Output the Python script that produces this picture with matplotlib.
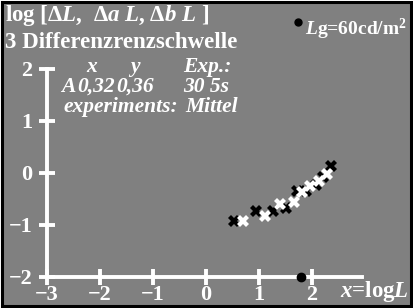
import matplotlib
matplotlib.use("Agg")
import matplotlib.pyplot as plt
from matplotlib.patches import Rectangle
from matplotlib.lines import Line2D

# data (log L, log threshold)
black_x = [0.52, 0.94, 1.26, 1.51, 1.71, 1.89, 2.08, 2.21, 2.36]
black_y = [-0.92, -0.74, -0.74, -0.68, -0.34, -0.34, -0.23, -0.07, 0.14]
white_x = [0.70, 1.11, 1.40, 1.66, 1.81, 1.96, 2.14, 2.28]
white_y = [-0.92, -0.82, -0.60, -0.56, -0.37, -0.25, -0.15, -0.01]
adapt_x = [1.79]
adapt_y = [-2.0]
xticks = [-3, -2, -1, 0, 1, 2]
yticks = [-2, -1, 0, 1, 2]

GRAY = "#808080"
plt.rcParams['font.family'] = ['Liberation Serif', 'DejaVu Serif']
plt.rcParams['mathtext.fontset'] = 'custom'
plt.rcParams['mathtext.rm'] = 'Liberation Serif:bold'
plt.rcParams['mathtext.it'] = 'Liberation Serif:bold:italic'
plt.rcParams['mathtext.bf'] = 'Liberation Serif:bold'

W, H = 413, 308
fig = plt.figure(figsize=(4.13, 3.08), dpi=100)
fig.patch.set_facecolor("white")
fig.patches.append(Rectangle((0.006, 0.006), 0.988, 0.988, transform=fig.transFigure,
                             facecolor=GRAY, edgecolor="black", linewidth=2.2, zorder=-5))

ax = fig.add_axes([0, 0, 1, 1])
ax.set_facecolor("none")
ax.set_zorder(2)
ax.set_xlim(-206 / 53, 207 / 53)
ax.set_ylim(-135 / 52, 173 / 52)

for s in ["top", "right"]:
    ax.spines[s].set_visible(False)
ax.spines["left"].set_position(("data", -3))
ax.spines["bottom"].set_position(("data", -2))
ax.spines["left"].set_bounds(-2, 2)
ax.spines["bottom"].set_bounds(-3, 2.95)
for s in ["left", "bottom"]:
    ax.spines[s].set_color("white")
    ax.spines[s].set_linewidth(2.8)
ax.set_xticks(xticks)
ax.set_yticks(yticks)
ax.set_xticklabels([str(t).replace("-", "\u2212") for t in xticks])
ax.set_yticklabels([str(t).replace("-", "\u2212") for t in yticks])
ax.tick_params(direction="inout", length=11, width=2.8, color="white",
               labelcolor="white", labelsize=16)
ax.tick_params(axis="x", pad=0)
ax.tick_params(axis="y", pad=5)
for lab in ax.get_xticklabels() + ax.get_yticklabels():
    lab.set_fontweight("bold")

ax.plot(black_x, black_y, "X", color="black", markersize=8, markeredgewidth=0, zorder=3)
ax.plot(white_x, white_y, "X", color="white", markersize=8, markeredgewidth=0, zorder=4)
ax.plot(adapt_x, adapt_y, "o", color="black", markersize=6, zorder=5, clip_on=False)


def ftext(px, py, s, **kw):
    fig.text(px / W, 1 - py / H, s, color="white", fontweight="bold",
             va="baseline", ha="left", **kw)


fs = 16.5
ftext(5, 21, "log [$\\Delta L$,  $\\Delta a$ $L$, $\\Delta b$ $L$ ]", fontsize=fs)
ftext(5, 48, "3 Differenzrenzschwelle", fontsize=fs)
fi = 15.5
ftext(86, 72, "x", fontsize=fi, style="italic")
ftext(130, 72, "y", fontsize=fi, style="italic")
ftext(183, 72, "Exp.:", fontsize=fi, style="italic")
ftext(61, 92, "A", fontsize=fi, style="italic")
ftext(77, 92, "0,32", fontsize=fi, style="italic")
ftext(116, 92, "0,36", fontsize=fi, style="italic")
ftext(183, 92, "30 5s", fontsize=fi, style="italic")
ftext(63, 112, "experiments:", fontsize=fi, style="italic")
ftext(185, 112, "Mittel", fontsize=fi, style="italic")
fig.add_artist(Line2D([298 / W], [1 - 22 / H], transform=fig.transFigure,
                      marker="o", markersize=5, color="black", linestyle="none"))
ftext(305, 35, "$L$g=60cd/m$^2$", fontsize=14)
fig.text(0.99, 1 - 297 / H, "$x$=log$L$", color="white", fontsize=fs,
         fontweight="bold", va="baseline", ha="right")

fig.savefig("out.png", dpi=100, facecolor=fig.get_facecolor())
